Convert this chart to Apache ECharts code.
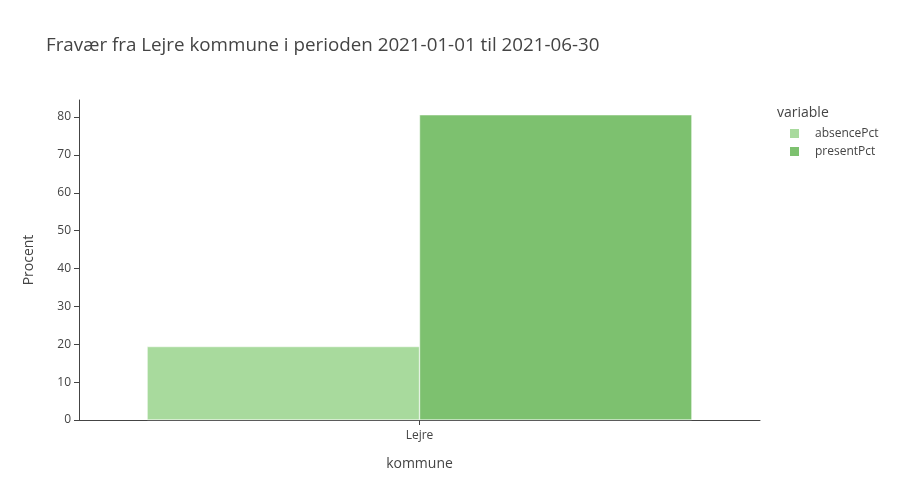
<!DOCTYPE html>
<html><head><meta charset="utf-8">
<script src="https://cdn.jsdelivr.net/npm/echarts@6/dist/echarts.min.js"></script>
<style>html,body{margin:0;padding:0;background:#fff}#c{width:900px;height:500px}</style>
</head><body><div id="c"></div>
<script>
const categories = ["Lejre"];
const absencePct = [19.4];
const presentPct = [80.6];
const seriesNames = ["absencePct", "presentPct"];
const titleText = "Fravær fra Lejre kommune i perioden 2021-01-01 til 2021-06-30";

const font = "'Open Sans', 'Liberation Sans', sans-serif";
const chart = echarts.init(document.getElementById('c'), null, {renderer: 'canvas'});
chart.setOption({
  animation: false,
  textStyle: {fontFamily: font, color: '#444'},
  title: {text: titleText, left: 41, top: 31, textStyle: {fontFamily: font, fontSize: 18.8, fontWeight: 'normal', color: '#444'}},
  grid: {left: 79, right: 140, top: 100, bottom: 80},
  legend: {
    orient: 'vertical', left: 783, top: 122, itemWidth: 11, itemHeight: 11, itemGap: 5, icon: 'rect',
    textStyle: {fontFamily: font, fontSize: 12, color: '#444', padding: [0, 0, 0, 10]},
    data: seriesNames
  },
  graphic: [{type: 'text', left: 777, top: 106, style: {text: 'variable', font: "14px 'Open Sans', sans-serif", fill: '#444'}}],
  xAxis: {
    type: 'category', data: categories, name: 'kommune', nameLocation: 'middle', nameGap: 37,
    nameTextStyle: {fontFamily: font, fontSize: 14, color: '#444'},
    axisLine: {lineStyle: {color: '#444', width: 1}},
    axisTick: {show: true, alignWithLabel: true, length: 5, lineStyle: {color: '#444'}},
    axisLabel: {fontFamily: font, fontSize: 12, color: '#444', margin: 10},
    splitLine: {show: false}
  },
  yAxis: {
    type: 'value', min: 0, max: 84.5, interval: 10, name: 'Procent', nameLocation: 'middle', nameGap: 43,
    nameTextStyle: {fontFamily: font, fontSize: 14, color: '#444'},
    axisLine: {show: true, lineStyle: {color: '#444', width: 1}},
    axisTick: {show: true, length: 5, lineStyle: {color: '#444'}},
    axisLabel: {fontFamily: font, fontSize: 12, color: '#444', margin: 8, showMaxLabel: false},
    splitLine: {show: false}
  },
  series: [
    {name: seriesNames[0], type: 'bar', data: absencePct, barGap: '0%', barCategoryGap: '20%',
     itemStyle: {color: '#a8da9d', borderColor: '#fff', borderWidth: 0.5}},
    {name: seriesNames[1], type: 'bar', data: presentPct, barGap: '0%', barCategoryGap: '20%',
     itemStyle: {color: '#7dc16f', borderColor: '#fff', borderWidth: 0.5}}
  ]
});
</script></body></html>
